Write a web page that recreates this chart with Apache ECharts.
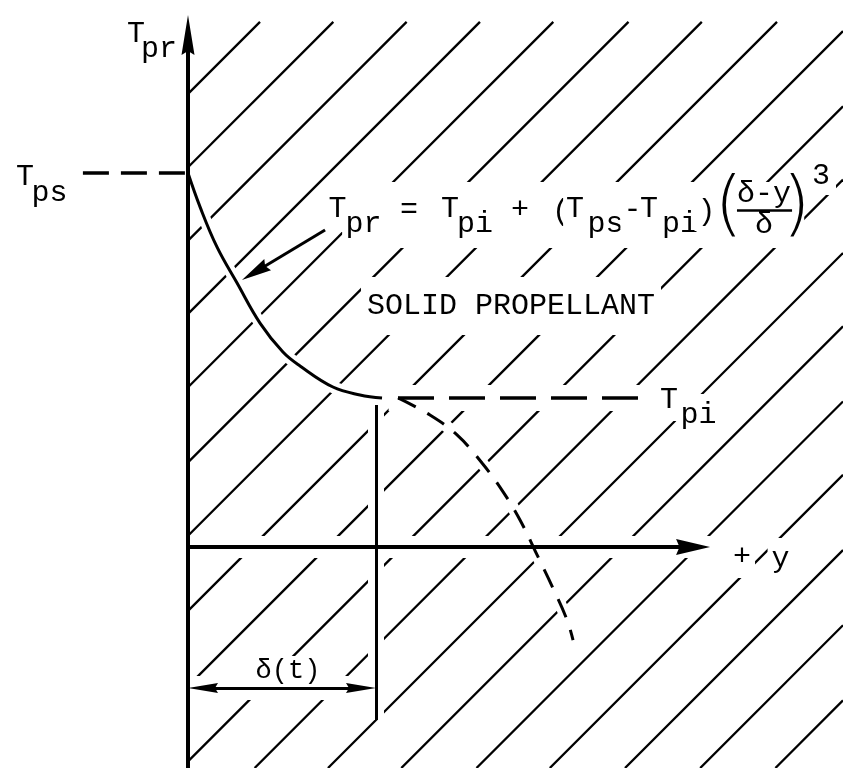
<!DOCTYPE html>
<html><head><meta charset="utf-8">
<script src="https://cdn.jsdelivr.net/npm/echarts@6/dist/echarts.min.js"></script>
<style>html,body{margin:0;padding:0;background:#fff}#c{width:843px;height:768px}</style>
</head><body><div id="c"></div>
<script>
// Drawing units: distance y measured in units of delta (delta = 1); temperature in the same units.
const DELTA = 1.0;
const T_PS = 1.99;            // surface temperature level
const T_PI = 0.793;           // initial temperature level
// profile inside the heated layer (solid curve)
const solidY = [0, 0.064, 0.154, 0.261, 0.383, 0.505, 0.596, 0.771, 0.915, 1.032];
const solidT = [1.989, 1.809, 1.596, 1.404, 1.191, 1.037, 0.963, 0.851, 0.809, 0.793];
// continuation of the cubic beyond delta (dashed curve)
const dashY = [1.117, 1.287, 1.431, 1.564, 1.676, 1.766, 1.862, 1.941, 2.016, 2.048];
const dashT = [0.793, 0.702, 0.596, 0.447, 0.293, 0.144, -0.053, -0.218, -0.388, -0.495];
// hatch lines (y - T = offset)
const hatchOffsets = [-2.41, -2.02, -1.63, -1.24, -0.85, -0.45, -0.06, 0.34, 0.74, 1.14, 1.53, 1.92, 2.31, 2.71, 3.10, 3.50, 3.90, 4.30];

// ---- view extents (layout) ----
const X_MIN = -1.0, X_MAX = 3.484, T_MIN = -1.1755, T_MAX = 2.9096;
const PX = 843 / (X_MAX - X_MIN);     // pixels per drawing unit (same on both axes)
const HATCH_TOP = 2.793;
const Y_AXIS_TOP = 2.83, X_AXIS_END = 2.777;
const TPS_DASH_START = -0.559, TPI_DASH_START = 1.117, TPI_DASH_END = 2.404;
const DELTA_LINE_TOP = 0.755, DELTA_LINE_BOTTOM = -0.92, DIM_LEVEL = -0.75;
const PTR_FROM = [0.729, 1.686], PTR_TIP = [0.287, 1.420];
const FONT = 'Liberation Mono';
const INK = '#000';
const HALO = '#fff';

const hatchData = hatchOffsets.map(d => {
  let x1 = HATCH_TOP + d, t1 = HATCH_TOP;
  if (x1 > X_MAX) { x1 = X_MAX; t1 = X_MAX - d; }
  let x2 = 0, t2 = -d;
  if (t2 < T_MIN) { t2 = T_MIN; x2 = T_MIN + d; }
  return { coords: [[x1, t1], [x2, t2]] };
});
const solidData = solidY.map((y, i) => [y, solidT[i]]);
const dashData = dashY.map((y, i) => [y, dashT[i]]);

// arrowheads: tip, a point behind it on the shaft, width and length in px
const arrowDefs = [
  { tip: [0, Y_AXIS_TOP], from: [0, 0], w: 13, h: 40 },
  { tip: [X_AXIS_END, 0], from: [0, 0], w: 16, h: 34 },
  { tip: PTR_TIP, from: PTR_FROM, w: 13, h: 30 },
  { tip: [0, DIM_LEVEL], from: [DELTA, DIM_LEVEL], w: 10, h: 30 },
  { tip: [DELTA, DIM_LEVEL], from: [0, DIM_LEVEL], w: 10, h: 30 }
];
const arrowItems = arrowDefs.map(a => {
  const dx = a.tip[0] - a.from[0], dy = a.tip[1] - a.from[1];
  const len = Math.hypot(dx, dy);
  const ux = dx / len, uy = dy / len;
  const half = a.h / 2 / PX;
  a.center = [a.tip[0] - ux * half, a.tip[1] - uy * half];
  const ang = Math.atan2(uy, ux) * 180 / Math.PI;
  return { value: a.center, symbolSize: [a.w, a.h], symbolRotate: ang - 90 };
});

function linesSeries(data, style, z) {
  return {
    type: 'lines', coordinateSystem: 'cartesian2d', z: z,
    lineStyle: Object.assign({ color: INK, width: 3, opacity: 1 }, style),
    data: data
  };
}
function txt(x, t, s, extra) {
  return { value: [x, t], label: Object.assign({
    show: true, formatter: s, position: 'inside', align: 'center', verticalAlign: 'middle',
    fontFamily: FONT, fontSize: 30, lineHeight: 30, color: INK,
    backgroundColor: '#fff', padding: [4, 3]
  }, extra || {}) };
}
const bigParen = { fontFamily: 'DejaVu Sans', fontWeight: 200, fontSize: 72, lineHeight: 76, padding: 0, backgroundColor: 'transparent' };
const noBg = { padding: 0, backgroundColor: 'transparent' };

const texts = [
  txt(-0.277, 2.729, 'T'), txt(-0.154, 2.649, 'pr'),
  txt(-0.867, 1.968, 'T'), txt(-0.737, 1.883, 'ps'),
  txt(2.559, 0.782, 'T', { padding: [6, 4] }), txt(2.715, 0.702, 'pi', { padding: [6, 4] }),
  txt(0.795, 1.798, 'T', { padding: [8, 2] }), txt(0.934, 1.718, 'pr'),
  txt(1.176, 1.793, '='),
  txt(1.394, 1.798, 'T'), txt(1.527, 1.718, 'pi'),
  txt(1.766, 1.793, '+'),
  txt(1.984, 1.782, '('), txt(2.059, 1.798, 'T'), txt(2.221, 1.718, 'ps'),
  txt(2.364, 1.793, '-'), txt(2.452, 1.798, 'T'), txt(2.617, 1.718, 'pi'),
  txt(2.758, 1.782, ')'),
  txt(2.875, 1.800, '(', bigParen),
  txt(3.237, 1.800, ')', bigParen),
  txt(3.064, 1.878, 'δ-y', noBg),
  txt(3.064, 1.713, 'δ', noBg),
  txt(3.367, 1.973, '3', { padding: [4, 6] }),
  txt(1.718, 1.282, 'SOLID PROPELLANT', { padding: [14, 6] }),
  txt(0.532, -0.660, 'δ(t)', { fontSize: 27, lineHeight: 26, padding: [4, 4, 0, 4] }),
  txt(2.947, -0.053, '+', { padding: [6, 4] }),
  txt(3.152, -0.064, 'y', { padding: [6, 4] })
];

const A = arrowDefs;
const chart = echarts.init(document.getElementById('c'));
chart.setOption({
  backgroundColor: '#fff',
  animation: false,
  grid: { left: 0, right: 0, top: 0, bottom: 0 },
  xAxis: { type: 'value', min: X_MIN, max: X_MAX, show: false },
  yAxis: { type: 'value', min: T_MIN, max: T_MAX, show: false },
  series: [
    // hatching
    linesSeries(hatchData, { width: 2.3 }, 1),
    // white halos: gaps in the hatching around drawn lines
    linesSeries([
      { coords: [[0, 0], [X_AXIS_END + 0.02, 0]], lineStyle: { width: 22 } },
      { coords: [[DELTA, DELTA_LINE_TOP], [DELTA, DELTA_LINE_BOTTOM]], lineStyle: { width: 16 } },
      { coords: [[TPI_DASH_START - 0.05, T_PI], [TPI_DASH_END, T_PI]], lineStyle: { width: 26 } },
      { coords: [[0, DIM_LEVEL], [DELTA, DIM_LEVEL]], lineStyle: { width: 24 } },
      { coords: [PTR_FROM, PTR_TIP], lineStyle: { width: 12 } }
    ], { color: HALO }, 2),
    { type: 'line', data: solidData, smooth: 0.4, showSymbol: false, z: 2,
      lineStyle: { color: HALO, width: 12 } },
    { type: 'line', data: dashData, smooth: 0.4, showSymbol: false, z: 2,
      lineStyle: { color: HALO, width: 12 } },
    // white backing behind the equation
    { type: 'scatter', symbolSize: 0, z: 2, itemStyle: { opacity: 1 },
      data: [{ value: [2.049, 1.766], label: { show: true, formatter: ' ', position: 'inside',
        width: 462, height: 66, backgroundColor: '#fff', padding: 0 } }] },
    // curves
    { type: 'line', data: solidData, smooth: 0.4, showSymbol: false, z: 3,
      lineStyle: { color: INK, width: 3 } },
    { type: 'line', data: dashData, smooth: 0.4, showSymbol: false, z: 3,
      lineStyle: { color: INK, width: 3, type: [20, 13] } },
    // axes, pointer, dimension line, delta line, fraction bar
    linesSeries([
      { coords: [[0, T_MIN], A[0].center], lineStyle: { width: 4 } },
      { coords: [[0, 0], A[1].center], lineStyle: { width: 4 } },
      { coords: [PTR_FROM, A[2].center] },
      { coords: [A[3].center, A[4].center] },
      { coords: [[DELTA, DELTA_LINE_TOP], [DELTA, DELTA_LINE_BOTTOM]] },
      { coords: [[2.920, 1.793], [3.213, 1.793]], lineStyle: { width: 2.5 } }
    ], {}, 3),
    // dashed level lines
    linesSeries([
      { coords: [[TPS_DASH_START, T_PS], [0, T_PS]], lineStyle: { type: [26, 12] } },
      { coords: [[TPI_DASH_START, T_PI], [TPI_DASH_END, T_PI]], lineStyle: { type: [36, 15] } }
    ], { width: 3.5 }, 3),
    // arrowheads
    { type: 'scatter', z: 3, symbol: 'path://M50,0 L100,100 L50,90 L0,100 Z',
      symbolKeepAspect: false, itemStyle: { color: INK, opacity: 1 }, data: arrowItems },
    // texts
    { type: 'scatter', symbolSize: 0, z: 4, itemStyle: { opacity: 1 }, data: texts }
  ]
});
</script></body></html>
